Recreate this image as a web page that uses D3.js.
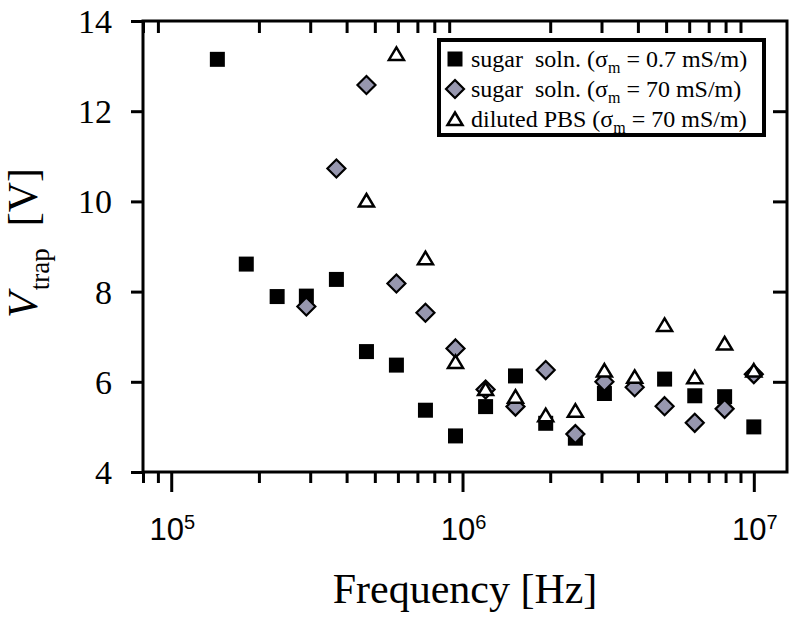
<!DOCTYPE html>
<html>
<head>
<meta charset="utf-8">
<script src="https://cdn.jsdelivr.net/npm/d3@7"></script>
<style>
  html, body { margin: 0; padding: 0; background: #fff; }
  svg { display: block; }
  text { white-space: pre; }
</style>
</head>
<body>
<div id="chart"></div>
<script>
// ---- data ----
const frequencies = [1.44e5, 1.81e5, 2.31e5, 2.91e5, 3.69e5, 4.68e5, 5.93e5, 7.46e5, 9.46e5, 1.20e6,
                     1.52e6, 1.93e6, 2.44e6, 3.07e6, 3.90e6, 4.94e6, 6.27e6, 7.94e6, 1.0e7];
const sugarLowCond  = [13.15, 8.61, 7.89, 7.90, 8.27, 6.67, 6.37, 5.37, 4.80, 5.45,
                       6.13, 5.08, 4.75, 5.74, null, 6.06, 5.69, 5.67, 5.00];
const sugarHighCond = [null, null, null, 7.67, 10.73, 12.58, 8.18, 7.53, 6.74, 5.83,
                       5.45, 6.26, 4.84, 6.00, 5.88, 5.46, 5.09, 5.40, 6.17];
const dilutedPBS    = [null, null, null, null, null, 10.02, 13.27, 8.74, 6.44, 5.84,
                       5.67, 5.26, 5.36, 6.25, 6.11, 7.26, 6.10, 6.85, 6.25];
const seriesNames = ["sugar  soln. (σ", "sugar  soln. (σ", "diluted PBS (σ"];
const seriesTails = [" = 0.7 mS/m)", " = 70 mS/m)", " = 70 mS/m)"];
const yTicks = [4, 6, 8, 10, 12, 14];
const xMajorExps = [5, 6, 7];
const xMinorTicks = [8e4, 9e4, 2e5, 3e5, 4e5, 5e5, 6e5, 7e5, 8e5, 9e5,
                     2e6, 3e6, 4e6, 5e6, 6e6, 7e6, 8e6, 9e6];

// ---- layout ----
const W = 800, H = 623;
const L = 143, R = 787, T = 21, B = 472;
const serif = "'Liberation Serif', 'Times New Roman', serif";
const sans = "'Liberation Sans', Arial, sans-serif";
const diamondFill = "#9797af";

const svg = d3.select("#chart").append("svg").attr("width", W).attr("height", H);

const x = d3.scaleLog().domain([8e4, 1.3e7]).range([L, R]);
const y = d3.scaleLinear().domain([4, 14]).range([B, T]);

// axes (ticks)
function styleAxis(g) {
  g.select(".domain").remove();
  g.selectAll(".tick line").attr("stroke", "#000").attr("stroke-width", 3);
  g.selectAll(".tick text").remove();
}
svg.append("g").attr("transform", `translate(0,${B})`)
  .call(d3.axisBottom(x).tickValues(xMinorTicks).tickSize(11).tickFormat(""))
  .call(styleAxis);
svg.append("g").attr("transform", `translate(0,${B})`)
  .call(d3.axisBottom(x).tickValues(xMajorExps.map(e => Math.pow(10, e))).tickSize(20).tickFormat(""))
  .call(styleAxis);
svg.append("g").attr("transform", `translate(0,${T})`)
  .call(d3.axisBottom(x).tickValues(xMinorTicks).tickSize(12).tickFormat(""))
  .call(styleAxis);
svg.append("g").attr("transform", `translate(${L},0)`)
  .call(d3.axisLeft(y).tickValues(yTicks).tickSize(12).tickFormat(""))
  .call(styleAxis);
svg.append("g").attr("transform", `translate(${R},0)`)
  .call(d3.axisLeft(y).tickValues(yTicks.slice(1, -1)).tickSize(14).tickFormat(""))
  .call(styleAxis);

// frame
svg.append("rect").attr("x", L).attr("y", T).attr("width", R - L).attr("height", B - T)
  .attr("fill", "none").attr("stroke", "#000").attr("stroke-width", 3);

// y tick labels
svg.append("g").selectAll("text").data(yTicks).join("text")
  .attr("x", 112).attr("y", d => y(d) + 12)
  .attr("text-anchor", "end")
  .attr("font-family", serif).attr("font-size", 34)
  .text(d => d);

// x tick labels
const xl = svg.append("g").selectAll("text").data(xMajorExps).join("text")
  .attr("x", d => x(Math.pow(10, d)) + 1).attr("y", 540)
  .attr("text-anchor", "middle")
  .attr("font-family", sans).attr("font-size", 31);
xl.append("tspan").text("10");
xl.append("tspan").attr("dy", -11).attr("font-size", 20).text(d => d);

// axis titles
svg.append("text").attr("x", (L + R) / 2).attr("y", 603)
  .attr("text-anchor", "middle").attr("font-family", serif).attr("font-size", 42)
  .text("Frequency [Hz]");

const yt = svg.append("text").attr("transform", "translate(37,318) rotate(-90)")
  .attr("font-family", serif).attr("font-size", 42);
yt.append("tspan").attr("font-style", "italic").text("V");
yt.append("tspan").attr("dy", 12).attr("dx", 2).attr("font-size", 27).text("trap");
yt.append("tspan").attr("dy", -12).attr("dx", 22).text("[V]");

// markers
const squarePath = "M-7.5,-7.5H7.5V7.5H-7.5Z";
const diamondPath = "M0,-9L9,0L0,9L-9,0Z";
const trianglePath = "M0,-6.5L7.5,6L-7.5,6Z";

function drawSeries(values, path, fill, stroke, sw) {
  const pts = frequencies.map((f, i) => ({ f, v: values[i] })).filter(d => d.v != null);
  svg.append("g").selectAll("path").data(pts).join("path")
    .attr("d", path)
    .attr("transform", d => `translate(${x(d.f)},${y(d.v)})`)
    .attr("fill", fill).attr("stroke", stroke).attr("stroke-width", sw)
    .attr("stroke-linejoin", "miter");
}
drawSeries(sugarLowCond, squarePath, "#000", "none", 0);
drawSeries(sugarHighCond, diamondPath, diamondFill, "#000", 2.2);
drawSeries(dilutedPBS, trianglePath, "#fff", "#000", 2.5);

// legend
const lg = svg.append("g");
lg.append("rect").attr("x", 439).attr("y", 40).attr("width", 325).attr("height", 95)
  .attr("fill", "#fff").attr("stroke", "#000").attr("stroke-width", 4);
const legendMarks = [
  { path: squarePath, fill: "#000", stroke: "none", sw: 0 },
  { path: diamondPath, fill: diamondFill, stroke: "#000", sw: 2.2 },
  { path: trianglePath, fill: "#fff", stroke: "#000", sw: 2.5 }
];
seriesNames.forEach((name, i) => {
  const cy = 59 + i * 30;
  lg.append("path").attr("d", legendMarks[i].path)
    .attr("transform", `translate(455,${cy})`)
    .attr("fill", legendMarks[i].fill).attr("stroke", legendMarks[i].stroke)
    .attr("stroke-width", legendMarks[i].sw);
  const t = lg.append("text").attr("x", 471).attr("y", cy + 8)
    .attr("font-family", serif).attr("font-size", 24);
  t.append("tspan").text(name);
  t.append("tspan").attr("dy", 6).attr("font-size", 16).text("m");
  t.append("tspan").attr("dy", -6).text(seriesTails[i]);
});
</script>
</body>
</html>
